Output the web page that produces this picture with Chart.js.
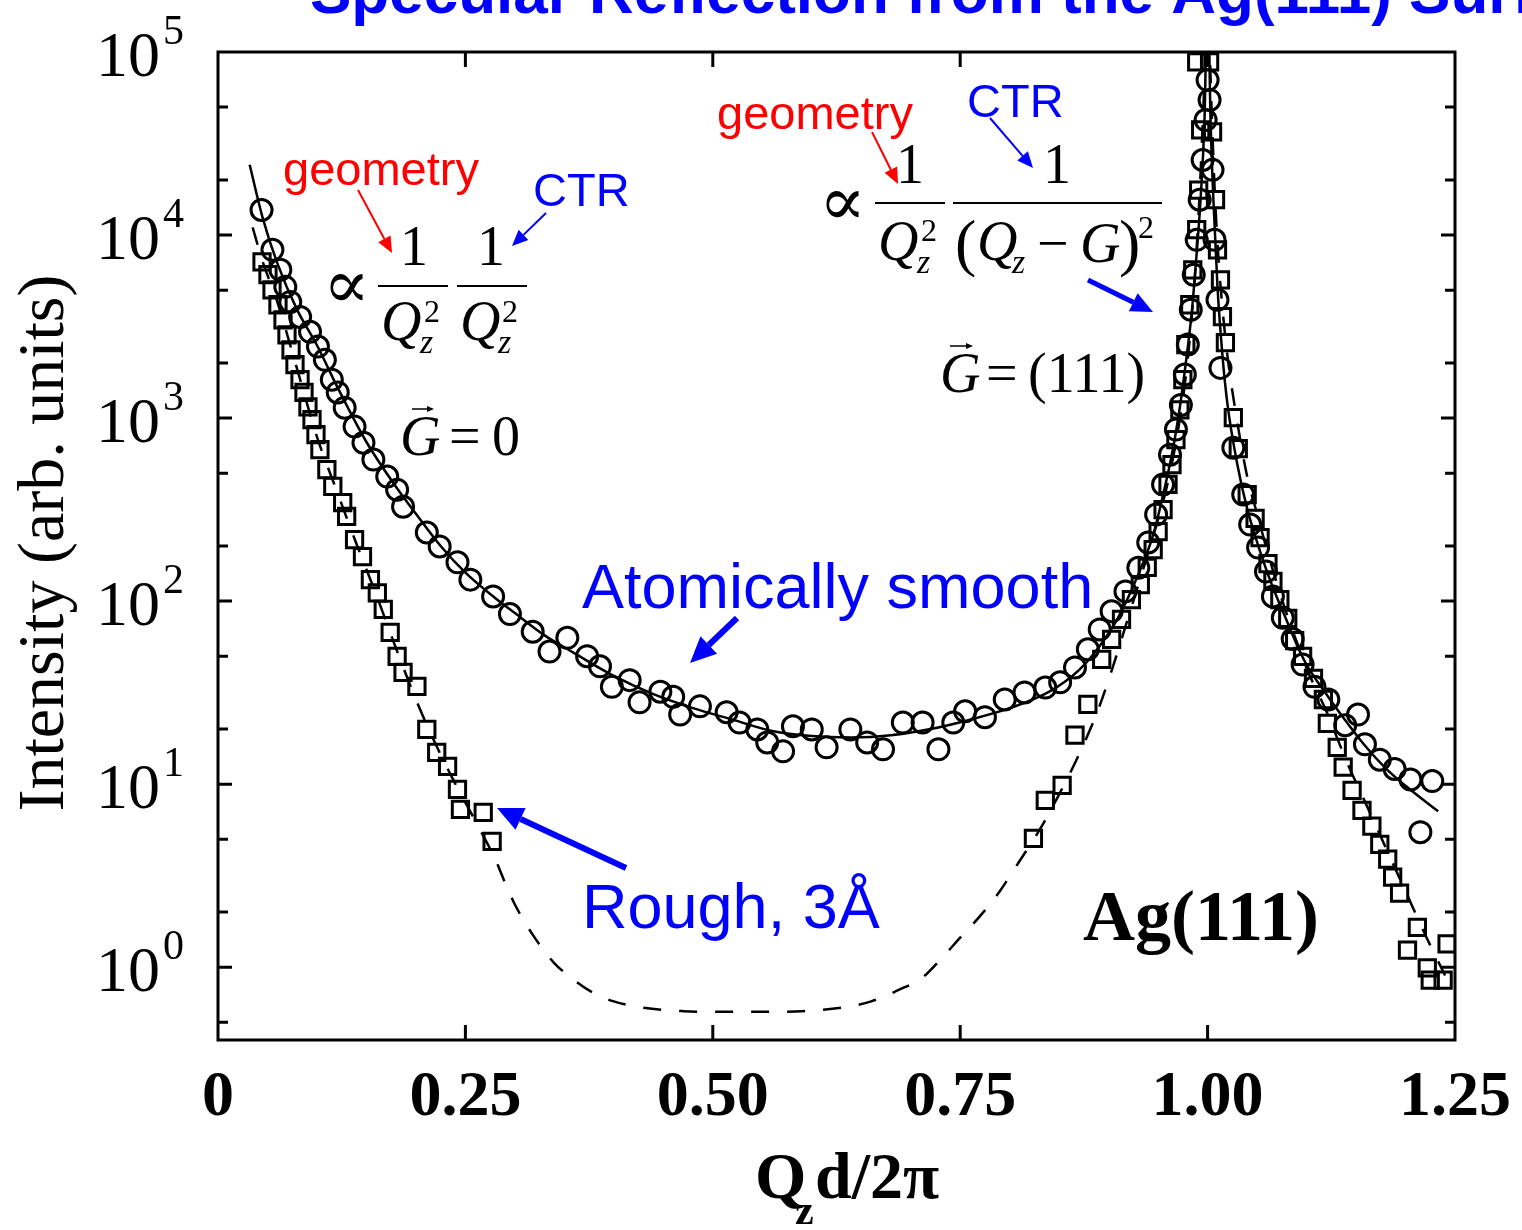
<!DOCTYPE html>
<html lang="en">
<head>
<meta charset="UTF-8" />
<title>Specular Reflection from the Ag(111) Surface</title>
<script src="https://cdn.jsdelivr.net/npm/chart.js"></script>
<style>
  html, body { margin: 0; padding: 0; background: #ffffff; }
  #chart { display: block; }
</style>
</head>
<body>
<canvas id="chart" width="1522" height="1230"></canvas>
<script>
// measured points, atomically smooth surface (circles)
const smoothQ = [0.044, 0.055, 0.063, 0.068, 0.073, 0.083, 0.093, 0.101, 0.108, 0.115, 0.121, 0.128, 0.138, 0.147, 0.157, 0.171, 0.181, 0.187, 0.211, 0.224, 0.242, 0.255, 0.278, 0.295, 0.318, 0.335, 0.353, 0.373, 0.386, 0.398, 0.416, 0.426, 0.447, 0.460, 0.467, 0.487, 0.514, 0.527, 0.545, 0.555, 0.571, 0.581, 0.600, 0.615, 0.639, 0.656, 0.672, 0.692, 0.712, 0.728, 0.743, 0.755, 0.775, 0.795, 0.815, 0.836, 0.851, 0.866, 0.879, 0.891, 0.903, 0.917, 0.930, 0.940, 0.948, 0.955, 0.962, 0.968, 0.973, 0.977, 0.980, 0.983, 0.986, 0.989, 0.992, 0.995, 0.998, 1.000, 1.002, 1.005, 1.007, 1.010, 1.013, 1.026, 1.036, 1.043, 1.051, 1.059, 1.066, 1.076, 1.086, 1.096, 1.108, 1.122, 1.139, 1.152, 1.159, 1.174, 1.189, 1.205, 1.215, 1.227];
const smoothI = [13700, 8300, 6460, 5210, 4310, 3570, 2960, 2460, 2080, 1620, 1380, 1140, 898, 734, 593, 479, 406, 328, 237, 199, 163, 131, 106, 85, 68, 53, 63, 50, 44, 34, 37, 28, 32, 30, 24, 26.6, 24.7, 21.7, 19.9, 16.9, 15.1, 20.7, 19.9, 15.9, 19.9, 16.9, 15.5, 21.7, 21.7, 15.5, 21.7, 25.0, 23.2, 29.0, 31.7, 33.7, 36.0, 43.4, 54.5, 70, 88, 113, 152, 209, 297, 433, 631, 865, 1180, 1730, 2520, 3910, 6070, 9410, 15600, 25700, 42500, 70300, 54700, 22700, 9420, 4430, 1880, 689, 382, 262, 196, 145, 106, 81, 62, 45, 34, 29, 21, 24, 16.5, 13.6, 12.1, 10.6, 5.46, 10.4];

// measured points, rough surface (squares)
const roughQ = [0.0445, 0.0505, 0.0546, 0.0606, 0.0657, 0.0697, 0.0738, 0.0778, 0.0829, 0.0869, 0.0909, 0.095, 0.099, 0.103, 0.110, 0.116, 0.126, 0.130, 0.138, 0.146, 0.154, 0.161, 0.167, 0.174, 0.181, 0.187, 0.201, 0.211, 0.221, 0.232, 0.242, 0.245, 0.268, 0.277, 0.824, 0.836, 0.853, 0.866, 0.879, 0.893, 0.903, 0.913, 0.923, 0.932, 0.939, 0.945, 0.950, 0.955, 0.960, 0.964, 0.968, 0.972, 0.975, 0.978, 0.982, 0.985, 0.989, 0.991, 0.993, 0.989, 1.002, 1.005, 1.008, 1.010, 1.013, 1.015, 1.018, 1.026, 1.031, 1.040, 1.048, 1.053, 1.061, 1.066, 1.073, 1.081, 1.088, 1.096, 1.107, 1.117, 1.121, 1.131, 1.137, 1.146, 1.156, 1.166, 1.174, 1.182, 1.187, 1.194, 1.212, 1.202, 1.242, 1.222, 1.225, 1.238];
const roughI = [7140, 6070, 5020, 4160, 3440, 2850, 2360, 1960, 1620, 1380, 1150, 980, 811, 672, 523, 423, 345, 290, 217, 175, 131, 111, 90, 67.4, 49.9, 40.8, 34.2, 19.9, 14.9, 12.5, 9.37, 7.28, 7.01, 4.87, 5.06, 8.16, 9.85, 18.5, 27.3, 48.0, 61.7, 79.4, 102, 123, 153, 191, 240, 316, 434, 557, 763, 1110, 1620, 2520, 4160, 6460, 10700, 17600, 37500, 88200, 88200, 36600, 15600, 8300, 5690, 3580, 2580, 1005, 681, 382, 283, 222, 160, 128, 102, 80.4, 60.9, 49.9, 37.8, 29.0, 21.5, 15.9, 12.4, 9.25, 7.19, 5.89, 4.69, 3.89, 3.10, 2.54, 1.65, 1.24, 1.34, 0.99, 0.85, 0.85];

// model curves
const smoothFitQ = [0.032, 0.045, 0.06, 0.08, 0.10, 0.12, 0.15, 0.18, 0.20, 0.225, 0.25, 0.28, 0.30, 0.33, 0.36, 0.40, 0.44, 0.48, 0.52, 0.56, 0.60, 0.64, 0.68, 0.72, 0.76, 0.80, 0.84, 0.87, 0.89, 0.91, 0.93, 0.945, 0.955, 0.965, 0.972, 0.978, 0.984, 0.989, 0.993, 0.997, 1.000, 1.003, 1.006, 1.010, 1.015, 1.02, 1.03, 1.04, 1.05, 1.06, 1.07, 1.08, 1.09, 1.10, 1.12, 1.14, 1.16, 1.18, 1.20, 1.233];
const smoothFitI = [24200, 12500, 7000, 3900, 2500, 1500, 740, 420, 300, 200, 143, 104, 86, 65, 52, 39, 31, 26, 22.5, 19.5, 18.3, 18, 18.5, 20, 22.5, 26, 32, 42, 56, 82, 140, 230, 380, 680, 1150, 2000, 3800, 8000, 16000, 45000, 250000, 42000, 15000, 5200, 2200, 1200, 560, 320, 210, 145, 105, 78, 58, 45, 31, 22, 16, 12.2, 9.8, 7.1];

const roughFitQ = [0.035, 0.045, 0.06, 0.08, 0.10, 0.12, 0.14, 0.16, 0.18, 0.20, 0.22, 0.24, 0.26, 0.28, 0.29, 0.30, 0.32, 0.34, 0.36, 0.38, 0.40, 0.43, 0.47, 0.51, 0.55, 0.59, 0.63, 0.66, 0.69, 0.71, 0.73, 0.75, 0.77, 0.79, 0.81, 0.83, 0.85, 0.87, 0.89, 0.905, 0.92, 0.935, 0.95, 0.96, 0.97, 0.978, 0.984, 0.989, 0.994, 0.998, 1.000, 1.002, 1.006, 1.010, 1.015, 1.02, 1.03, 1.04, 1.05, 1.06, 1.07, 1.08, 1.09, 1.10, 1.12, 1.14, 1.16, 1.18, 1.20, 1.22, 1.24];
const roughFitI = [11000, 7200, 4300, 1850, 790, 400, 205, 108, 55, 29, 16.5, 10, 6.3, 3.9, 2.9, 2.2, 1.45, 1.05, 0.85, 0.72, 0.65, 0.6, 0.575, 0.57, 0.57, 0.575, 0.6, 0.65, 0.76, 0.86, 1.1, 1.45, 1.9, 2.6, 3.8, 5.6, 8.8, 14.5, 26, 45, 82, 150, 280, 450, 850, 1700, 3600, 8500, 30000, 120000, 500000, 120000, 25000, 9000, 4000, 2200, 950, 480, 300, 190, 125, 85, 60, 43, 25, 13.5, 7.8, 4.5, 2.6, 1.5, 0.9];

// axes
const xTicks = [0, 0.25, 0.5, 0.75, 1.0, 1.25];
const xTickLabels = ["0", "0.25", "0.50", "0.75", "1.00", "1.25"];
const yDecades = [0, 1, 2, 3, 4, 5];
const yMinorTicks = [0.5, 2, 5, 20, 50, 200, 500, 2000, 5000, 20000, 50000];

const pts = (qs, is) => qs.map((q, i) => ({ x: q, y: is[i] }));

const SERIF = '"Liberation Serif", "DejaVu Serif", serif';
const SANS = '"Liberation Sans", Arial, sans-serif';
const BLUE = "#0000ff";
const RED = "#ff0000";

function arrow(ctx, x1, y1, x2, y2, color, lw, headLen, headW) {
    const ang = Math.atan2(y2 - y1, x2 - x1);
    const bx = x2 - headLen * Math.cos(ang);
    const by = y2 - headLen * Math.sin(ang);
    ctx.save();
    ctx.strokeStyle = color;
    ctx.fillStyle = color;
    ctx.lineWidth = lw;
    ctx.beginPath();
    ctx.moveTo(x1, y1);
    ctx.lineTo(bx, by);
    ctx.stroke();
    ctx.beginPath();
    ctx.moveTo(x2, y2);
    ctx.lineTo(bx + headW / 2 * Math.sin(ang), by - headW / 2 * Math.cos(ang));
    ctx.lineTo(bx - headW / 2 * Math.sin(ang), by + headW / 2 * Math.cos(ang));
    ctx.closePath();
    ctx.fill();
    ctx.restore();
}

function txt(ctx, s, x, y, font, color, align) {
    ctx.font = font;
    ctx.fillStyle = color || "#000";
    ctx.textAlign = align || "left";
    ctx.textBaseline = "alphabetic";
    ctx.fillText(s, x, y);
}

// proportional-to sign, sized to about 33 px wide and centred on yMid
function propTo(ctx, x, yMid) {
    ctx.save();
    ctx.textAlign = "left";
    ctx.textBaseline = "alphabetic";
    ctx.font = '40px "DejaVu Serif"';
    const m = ctx.measureText("\u221d");
    const w = (m.actualBoundingBoxRight + m.actualBoundingBoxLeft) || m.width;
    const fs = Math.max(20, Math.min(160, 40 * 33 / w));
    ctx.font = fs + 'px "DejaVu Serif"';
    const m2 = ctx.measureText("\u221d");
    const asc = m2.actualBoundingBoxAscent || fs * 0.45;
    const desc = m2.actualBoundingBoxDescent || 0;
    ctx.fillStyle = "#000";
    ctx.fillText("\u221d", x + (m2.actualBoundingBoxLeft || 0), yMid + (asc - desc) / 2);
    ctx.restore();
}

function bar(ctx, x1, x2, y) {
    ctx.save();
    ctx.strokeStyle = "#000";
    ctx.lineWidth = 2;
    ctx.beginPath();
    ctx.moveTo(x1, y);
    ctx.lineTo(x2, y);
    ctx.stroke();
    ctx.restore();
}

const overlay = {
    id: "overlay",
    afterDraw(chart) {
        const { ctx, chartArea: a, scales } = chart;
        const x = scales.x, y = scales.y;

        // frame
        ctx.save();
        ctx.strokeStyle = "#000";
        ctx.lineWidth = 3;
        ctx.strokeRect(a.left, a.top, a.right - a.left, a.bottom - a.top);

        // inward ticks
        ctx.lineWidth = 3;
        ctx.beginPath();
        xTicks.forEach((v) => {
            const px = x.getPixelForValue(v);
            if (px <= a.left + 2 || px >= a.right - 2) return;
            ctx.moveTo(px, a.bottom); ctx.lineTo(px, a.bottom - 15);
            ctx.moveTo(px, a.top); ctx.lineTo(px, a.top + 15);
        });
        yDecades.forEach((d) => {
            const py = y.getPixelForValue(Math.pow(10, d));
            if (py <= a.top + 2) return;
            ctx.moveTo(a.left, py); ctx.lineTo(a.left + 14, py);
            ctx.moveTo(a.right, py); ctx.lineTo(a.right - 14, py);
        });
        yMinorTicks.forEach((v) => {
            const py = y.getPixelForValue(v);
            ctx.moveTo(a.left, py); ctx.lineTo(a.left + 10, py);
            ctx.moveTo(a.right, py); ctx.lineTo(a.right - 10, py);
        });
        ctx.stroke();
        ctx.restore();

        // tick labels
        yDecades.forEach((d) => {
            const py = y.getPixelForValue(Math.pow(10, d));
            txt(ctx, "10", 160, py + 24, "64px " + SERIF, "#000", "right");
            txt(ctx, String(d), 163, py - 8, "42px " + SERIF, "#000", "left");
        });
        xTicks.forEach((v, i) => {
            txt(ctx, xTickLabels[i], x.getPixelForValue(v), 1115, "bold 64px " + SERIF, "#000", "center");
        });

        // axis titles
        txt(ctx, "Q", 755, 1198, "bold 66px " + SERIF);
        txt(ctx, "z", 795, 1224, "bold 42px " + SERIF);
        txt(ctx, "d/2\u03c0", 815, 1198, "bold 66px " + SERIF);
        ctx.save();
        ctx.translate(63, 543);
        ctx.rotate(-Math.PI / 2);
        txt(ctx, "Intensity (arb. units)", 0, 0, "66px " + SERIF, "#000", "center");
        ctx.restore();

        // title (cut by the top edge)
        txt(ctx, "Specular Reflection from the Ag(111) Surface", 310, 13, "bold 62px " + SANS, BLUE);

        // left formula
        propTo(ctx, 330, 287);
        bar(ctx, 378, 448, 286);
        txt(ctx, "1", 414, 265, "56px " + SERIF, "#000", "center");
        txt(ctx, "Q", 381, 340, "italic 56px " + SERIF);
        txt(ctx, "2", 424, 322, "32px " + SERIF);
        txt(ctx, "z", 420, 353, "italic 34px " + SERIF);
        bar(ctx, 457, 527, 286);
        txt(ctx, "1", 491, 265, "56px " + SERIF, "#000", "center");
        txt(ctx, "Q", 460, 340, "italic 56px " + SERIF);
        txt(ctx, "2", 502, 322, "32px " + SERIF);
        txt(ctx, "z", 498, 353, "italic 34px " + SERIF);
        txt(ctx, "G", 400, 455, "italic 56px " + SERIF);
        arrow(ctx, 412, 409, 434, 409, "#000", 1.5, 7, 6);
        txt(ctx, "=", 449, 455, "56px " + SERIF);
        txt(ctx, "0", 492, 455, "56px " + SERIF);

        txt(ctx, "geometry", 283, 185, "47px " + SANS, RED);
        arrow(ctx, 358, 190, 392, 253, RED, 2, 16, 14);
        txt(ctx, "CTR", 533, 206, "47px " + SANS, BLUE);
        arrow(ctx, 546, 213, 512, 246, BLUE, 2, 16, 14);

        // right formula
        propTo(ctx, 826, 204);
        bar(ctx, 875, 945, 203);
        txt(ctx, "1", 910, 183, "56px " + SERIF, "#000", "center");
        txt(ctx, "Q", 878, 260, "italic 56px " + SERIF);
        txt(ctx, "2", 921, 241, "32px " + SERIF);
        txt(ctx, "z", 917, 273, "italic 34px " + SERIF);
        bar(ctx, 953, 1162, 203);
        txt(ctx, "1", 1057, 183, "56px " + SERIF, "#000", "center");
        txt(ctx, "(", 955, 264, "64px " + SERIF);
        txt(ctx, "Q", 977, 260, "italic 56px " + SERIF);
        txt(ctx, "z", 1012, 273, "italic 34px " + SERIF);
        txt(ctx, "\u2212", 1037, 262, "56px " + SERIF);
        txt(ctx, "G", 1080, 262, "italic 56px " + SERIF);
        txt(ctx, ")", 1119, 264, "64px " + SERIF);
        txt(ctx, "2", 1138, 238, "32px " + SERIF);
        txt(ctx, "G", 940, 392, "italic 56px " + SERIF);
        arrow(ctx, 950, 346, 973, 346, "#000", 1.5, 7, 6);
        txt(ctx, "=", 986, 392, "56px " + SERIF);
        txt(ctx, "(111)", 1028, 392, "56px " + SERIF);

        txt(ctx, "geometry", 717, 129, "47px " + SANS, RED);
        arrow(ctx, 872, 132, 898, 184, RED, 2, 16, 14);
        txt(ctx, "CTR", 967, 117, "47px " + SANS, BLUE);
        arrow(ctx, 990, 118, 1033, 168, BLUE, 2, 16, 14);
        arrow(ctx, 1088, 280, 1153, 312, BLUE, 5, 22, 20);

        // labels on the curves
        txt(ctx, "Atomically smooth", 582, 608, "63px " + SANS, BLUE);
        arrow(ctx, 737, 618, 690, 663, BLUE, 6, 26, 24);
        txt(ctx, "Rough, 3\u00c5", 582, 928, "63px " + SANS, BLUE);
        arrow(ctx, 626, 868, 497, 808, BLUE, 6, 26, 24);
        txt(ctx, "Ag(111)", 1083, 940, "bold 72px " + SERIF);
    },
};

new Chart("chart", {
    type: "scatter",
    data: {
        datasets: [
            {
                label: "Atomically smooth",
                data: pts(smoothQ, smoothI),
                pointStyle: "circle",
                pointRadius: 10.5,
                borderColor: "#000",
                backgroundColor: "rgba(0,0,0,0)",
                borderWidth: 3,
                showLine: false,
            },
            {
                label: "Rough, 3\u00c5",
                data: pts(roughQ, roughI),
                pointStyle: "rect",
                pointRadius: 11.5,
                borderColor: "#000",
                backgroundColor: "rgba(0,0,0,0)",
                borderWidth: 3,
                showLine: false,
            },
            {
                label: "smooth model",
                data: pts(smoothFitQ, smoothFitI),
                showLine: true,
                pointRadius: 0,
                borderColor: "#000",
                borderWidth: 2.5,
                cubicInterpolationMode: "monotone",
            },
            {
                label: "rough model",
                data: pts(roughFitQ, roughFitI),
                showLine: true,
                pointRadius: 0,
                borderColor: "#000",
                borderWidth: 2.5,
                borderDash: [18, 18],
                cubicInterpolationMode: "monotone",
            },
        ],
    },
    options: {
        responsive: false,
        animation: false,
        devicePixelRatio: 1,
        layout: { padding: { left: 218, top: 52, right: 67, bottom: 190 } },
        plugins: { legend: { display: false }, tooltip: { enabled: false } },
        scales: {
            x: { type: "linear", min: 0, max: 1.25, display: false },
            y: { type: "logarithmic", min: 0.4, max: 100000, display: false },
        },
    },
    plugins: [overlay],
});
</script>
</body>
</html>
